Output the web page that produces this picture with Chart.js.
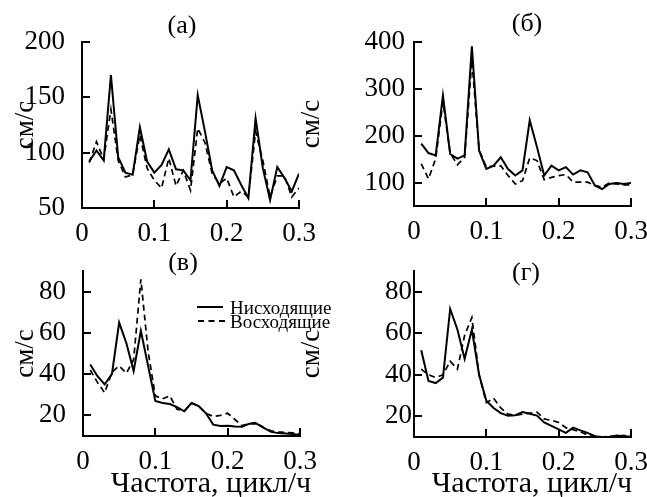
<!DOCTYPE html>
<html>
<head>
<meta charset="utf-8">
<script src="https://cdn.jsdelivr.net/npm/chart.js@4/dist/chart.umd.min.js"></script>
<style>
  body { margin: 0; background: #fff; width: 647px; height: 497px; position: relative; overflow: hidden; font-family: "Liberation Serif", serif; color: #000; }
  canvas { position: absolute; }
  .t { position: absolute; transform: translate(-50%, -50%); white-space: nowrap; line-height: 1; }
  .ln { position: absolute; height: 0; }
  .lg { position: absolute; font-size: 19px; line-height: 1; transform: translateY(-50%); white-space: nowrap; }
</style>
</head>
<body>
<canvas id="pa" width="323" height="250" style="left:0;top:0"></canvas>
<canvas id="pb" width="357" height="250" style="left:290px;top:0"></canvas>
<canvas id="pc" width="323" height="247" style="left:0;top:250px"></canvas>
<canvas id="pd" width="357" height="247" style="left:290px;top:250px"></canvas>

<div class="t" style="left:182px;top:25px;font-size:26px">(а)</div>
<div class="t" style="left:527px;top:23px;font-size:26px">(б)</div>
<div class="t" style="left:183px;top:262px;font-size:26px">(в)</div>
<div class="t" style="left:526px;top:272px;font-size:26px">(г)</div>

<div class="ln" style="left:197px;top:306px;width:26px;border-top:2px solid #000"></div>
<div class="ln" style="left:198px;top:320px;width:27px;border-top:2px dashed #000"></div>
<div class="lg" style="left:230px;top:307px">Нисходящие</div>
<div class="lg" style="left:230px;top:321px">Восходящие</div>

<div class="t" style="left:211px;top:482px;font-size:30px">Частота, цикл/ч</div>
<div class="t" style="left:532px;top:482px;font-size:30px">Частота, цикл/ч</div>

<script>
// frequency, cycles per hour
const freq = [0.01, 0.02, 0.03, 0.04, 0.05, 0.06, 0.07, 0.08, 0.09, 0.10,
              0.11, 0.12, 0.13, 0.14, 0.15, 0.16, 0.17, 0.18, 0.19, 0.20,
              0.21, 0.22, 0.23, 0.24, 0.25, 0.26, 0.27, 0.28, 0.29, 0.30];
const xTicks = [0, 0.1, 0.2, 0.3];

// (а)
const aDown = [92, 102, 93, 170, 96, 82, 80, 123, 92, 82, 89, 103, 85, 84, 75, 152, 119, 84, 70, 87, 84, 71, 59, 131, 86, 57, 87, 77, 65, 81];
const aUp   = [91, 110, 94, 139, 93, 78, 80, 116, 86, 75, 68, 95, 70, 84, 66, 122, 109, 81, 72, 77, 60, 65, 60, 119, 93, 60, 79, 79, 60, 68];
const aTicks = [50, 100, 150, 200];

// (б)
const bDown = [183, 163, 158, 286, 161, 151, 158, 391, 168, 129, 136, 154, 129, 115, 126, 233, 176, 115, 136, 126, 133, 117, 126, 122, 94, 86, 97, 99, 97, 99];
const bUp   = [140, 108, 151, 272, 163, 138, 154, 361, 170, 133, 135, 136, 115, 97, 104, 153, 147, 106, 111, 115, 117, 101, 101, 101, 94, 90, 99, 97, 95, 95];
const bTicks = [100, 200, 300, 400];

// (в)
const cDown = [44.7, 39, 35, 40, 65, 55, 41.5, 61, 44, 27, 26, 25.5, 24, 22, 26, 24.5, 21, 15.5, 14.8, 15, 14.6, 14.5, 16, 16, 13.9, 12, 11.4, 11.2, 11, 10.5];
const cUp   = [42, 36, 31, 41, 44, 40.5, 47, 86, 51, 29.5, 28, 29.5, 23, 22, 26, 24.5, 21, 19.5, 20, 21, 18, 15, 16, 16.5, 14, 12.5, 12, 11.7, 11.5, 11];
const cTicks = [20, 40, 60, 80];

// (г)
const dDown = [51.8, 37, 36, 38.6, 71.7, 61.8, 47.7, 61.8, 40, 27.5, 24, 21.5, 20.3, 20.5, 22, 21.2, 20.3, 17, 15.4, 13.7, 12, 14.5, 13.2, 12, 10.4, 10, 10, 10.7, 10.4, 10.2];
const dUp   = [42.7, 40, 38.6, 40, 46.5, 42.7, 59, 67.6, 40, 26.5, 28.7, 24, 21, 20.5, 21, 21.5, 22, 18.7, 18, 17, 14.5, 13.5, 12.5, 11, 10.4, 10, 10.3, 10.2, 10.8, 10];
const dTicks = [20, 40, 60, 80];

const serif = 'Liberation Serif';

function pts(vals) {
  return freq.map((f, i) => ({ x: f, y: vals[i] }));
}

function panel(id, down, up, yMin, yMax, yTicks, c) {
  new Chart(document.getElementById(id), {
    type: 'line',
    data: {
      datasets: [
        { label: 'Нисходящие', data: pts(down), borderColor: '#000', borderWidth: 2, pointRadius: 0, tension: 0, fill: false },
        { label: 'Восходящие', data: pts(up), borderColor: '#000', borderWidth: 1.7, borderDash: [6, 4], pointRadius: 0, tension: 0, fill: false }
      ]
    },
    options: {
      responsive: false,
      animation: false,
      events: [],
      layout: { padding: { left: 0, right: c.pr, top: c.pt, bottom: 0 } },
      plugins: { legend: { display: false }, tooltip: { enabled: false } },
      scales: {
        x: {
          type: 'linear', min: 0, max: 0.3,
          afterBuildTicks: s => { s.ticks = xTicks.map(v => ({ value: v })); },
          afterFit: s => { s.height = c.xh; s.paddingLeft = 0; s.paddingRight = 0; },
          grid: { drawOnChartArea: false, tickLength: -8, color: '#000', lineWidth: 2 },
          border: { color: '#000', width: 2 },
          ticks: {
            color: '#000', padding: 18, maxRotation: 0,
            font: { family: serif, size: 27 },
            callback: v => v === 0 ? '0' : v.toFixed(1)
          }
        },
        y: {
          min: yMin, max: yMax,
          afterBuildTicks: s => { s.ticks = yTicks.map(v => ({ value: v })); },
          afterFit: s => { s.width = c.yw; s.paddingTop = 0; s.paddingBottom = 0; },
          grid: { drawOnChartArea: false, tickLength: -8, color: '#000', lineWidth: 2 },
          border: { color: '#000', width: 2 },
          ticks: { color: '#000', padding: c.lp, font: { family: serif, size: 27 } },
          title: { display: true, text: 'см/с', color: '#000', font: { family: serif, size: 27 }, padding: { top: c.tp, bottom: 0 } }
        }
      }
    }
  });
}

panel('pa', aDown, aUp, 50, 200, aTicks, { pr: 24, pt: 42, xh: 42, yw: 82, lp: 25, tp: 10 });
panel('pb', bDown, bUp, 50, 400, bTicks, { pr: 16, pt: 42, xh: 44, yw: 124, lp: 17, tp: 6 });
panel('pc', cDown, cUp, 10, 90, cTicks, { pr: 23, pt: 21, xh: 61, yw: 83, lp: 25, tp: 10 });
panel('pd', dDown, dUp, 10, 90, dTicks, { pr: 16, pt: 21, xh: 60, yw: 124, lp: 10, tp: 6 });
</script>
</body>
</html>
